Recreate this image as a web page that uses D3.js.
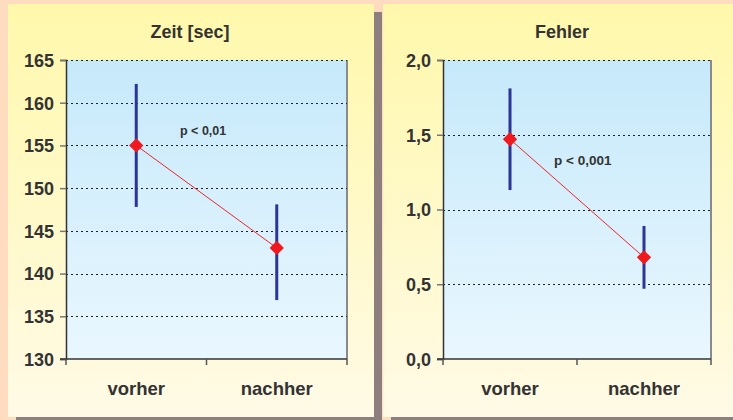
<!DOCTYPE html>
<html>
<head>
<meta charset="utf-8">
<script src="https://cdn.jsdelivr.net/npm/d3@7/dist/d3.min.js"></script>
<style>
  html, body { margin: 0; padding: 0; background: #FFDCBF; }
  svg { display: block; }
  text { font-family: "Liberation Sans", Arial, sans-serif; font-weight: bold; fill: #333333; }
</style>
</head>
<body>
<svg id="chart" width="733" height="420"></svg>
<script>
// Categories shared by both panels
const categories = ["vorher", "nachher"];

// Panel 1: time in seconds
const zeitMean = [155, 143];
const zeitLow = [147.8, 136.9];
const zeitHigh = [162.2, 148.1];
const zeitTicks = [130, 135, 140, 145, 150, 155, 160, 165];

// Panel 2: error count
const fehlerMean = [1.47, 0.68];
const fehlerLow = [1.13, 0.47];
const fehlerHigh = [1.81, 0.89];
const fehlerTicks = [0, 0.5, 1.0, 1.5, 2.0];

const svg = d3.select("#chart");
const defs = svg.append("defs");

const panelGrad = defs.append("linearGradient").attr("id", "panelGrad")
  .attr("x1", 0).attr("y1", 0).attr("x2", 0).attr("y2", 1);
panelGrad.append("stop").attr("offset", "0%").attr("stop-color", "#FFF8AB");
panelGrad.append("stop").attr("offset", "100%").attr("stop-color", "#FFFAE6");

const plotGrad = defs.append("linearGradient").attr("id", "plotGrad")
  .attr("x1", 0).attr("y1", 0).attr("x2", 0).attr("y2", 1);
plotGrad.append("stop").attr("offset", "0%").attr("stop-color", "#C6E9FA");
plotGrad.append("stop").attr("offset", "100%").attr("stop-color", "#E9F7FF");

const fmt = d3.format(".1f");
const deFmt = v => fmt(v).replace(".", ",");

function drawPanel(cfg) {
  const { px, pw, plot, domain, ticks, tickFmt, title, titleX, mean, low, high, pLabel, pPos, pSize } = cfg;

  // drop shadow and card
  svg.append("rect").attr("x", px + 8).attr("y", 12).attr("width", pw).attr("height", 413)
    .attr("fill", "#8C7F7E");
  svg.append("rect").attr("x", px).attr("y", 4).attr("width", pw).attr("height", 413)
    .attr("fill", "url(#panelGrad)");

  const x = d3.scaleBand().domain(categories).range([plot.left, plot.right]).paddingInner(0).paddingOuter(0);
  const y = d3.scaleLinear().domain(domain).range([plot.bottom, plot.top]);

  const g = svg.append("g");

  // plot area
  g.append("rect").attr("x", plot.left).attr("y", plot.top)
    .attr("width", plot.right - plot.left).attr("height", plot.bottom - plot.top)
    .attr("fill", "url(#plotGrad)");

  // right border
  g.append("line").attr("x1", plot.right).attr("x2", plot.right)
    .attr("y1", plot.top).attr("y2", plot.bottom)
    .attr("stroke", "#8A8A8A").attr("stroke-width", 2);

  // dotted gridlines
  g.selectAll(".grid").data(ticks.filter(t => t !== domain[0])).enter().append("line")
    .attr("x1", plot.left).attr("x2", plot.right)
    .attr("y1", d => Math.round(y(d)) + 0.5).attr("y2", d => Math.round(y(d)) + 0.5)
    .attr("stroke", "#222").attr("stroke-width", 1).attr("stroke-dasharray", "2,3");

  // y axis
  const yAxis = d3.axisLeft(y).tickValues(ticks).tickFormat(tickFmt).tickSize(6).tickPadding(6);
  const ya = g.append("g").attr("transform", `translate(${plot.left},0)`).call(yAxis);
  ya.select(".domain").attr("stroke", "#333").attr("stroke-width", 1.5);
  ya.selectAll(".tick line").attr("stroke", "#777").attr("stroke-width", 1.5);
  ya.selectAll(".tick text").attr("font-size", 18).attr("fill", "#333")
    .attr("font-family", "Liberation Sans, Arial, sans-serif").attr("font-weight", "bold")
    .attr("dy", "0.35em");

  // x axis with boundary ticks
  const xb = g.append("g");
  xb.append("line").attr("x1", plot.left - 6).attr("x2", plot.right)
    .attr("y1", plot.bottom).attr("y2", plot.bottom)
    .attr("stroke", "#333").attr("stroke-width", 1.5);
  const bounds = [plot.left].concat(categories.map(c => x(c) + x.bandwidth()));
  xb.selectAll(".xt").data(bounds).enter().append("line")
    .attr("x1", d => d).attr("x2", d => d)
    .attr("y1", plot.bottom).attr("y2", plot.bottom + 6)
    .attr("stroke", "#555").attr("stroke-width", 1.5);
  xb.selectAll(".xl").data(categories).enter().append("text")
    .attr("x", d => x(d) + x.bandwidth() / 2).attr("y", 395)
    .attr("text-anchor", "middle").attr("font-size", 18.5).text(d => d);

  // title
  svg.append("text").attr("x", titleX).attr("y", 38).attr("text-anchor", "middle")
    .attr("font-size", 18).text(title);

  const cx = i => x(categories[i]) + x.bandwidth() / 2;

  // error bars
  g.selectAll(".err").data(mean).enter().append("line")
    .attr("x1", (d, i) => cx(i)).attr("x2", (d, i) => cx(i))
    .attr("y1", (d, i) => y(low[i])).attr("y2", (d, i) => y(high[i]))
    .attr("stroke", "#2B3595").attr("stroke-width", 3);

  // connecting line
  const line = d3.line().x((d, i) => cx(i)).y(d => y(d));
  g.append("path").datum(mean).attr("d", line)
    .attr("fill", "none").attr("stroke", "#F0242A").attr("stroke-width", 1);

  // diamond markers
  const diamond = d3.symbol().type(d3.symbolDiamond2).size(130);
  g.selectAll(".mk").data(mean).enter().append("path")
    .attr("d", diamond)
    .attr("transform", (d, i) => `translate(${cx(i)},${y(d)})`)
    .attr("fill", "#F0191E");

  // significance label
  g.append("text").attr("x", pPos[0]).attr("y", pPos[1]).attr("font-size", pSize).text(pLabel);
}

drawPanel({
  px: 8, pw: 366,
  plot: { left: 66, right: 347, top: 60, bottom: 359 },
  domain: [130, 165], ticks: zeitTicks, tickFmt: d3.format("d"),
  title: "Zeit [sec]", titleX: 190,
  mean: zeitMean, low: zeitLow, high: zeitHigh,
  pLabel: "p < 0,01", pPos: [180, 135], pSize: 12.5
});

drawPanel({
  px: 383, pw: 358,
  plot: { left: 443, right: 711, top: 60, bottom: 359 },
  domain: [0, 2], ticks: fehlerTicks, tickFmt: deFmt,
  title: "Fehler", titleX: 562,
  mean: fehlerMean, low: fehlerLow, high: fehlerHigh,
  pLabel: "p < 0,001", pPos: [554, 165], pSize: 13.5
});
</script>
</body>
</html>
